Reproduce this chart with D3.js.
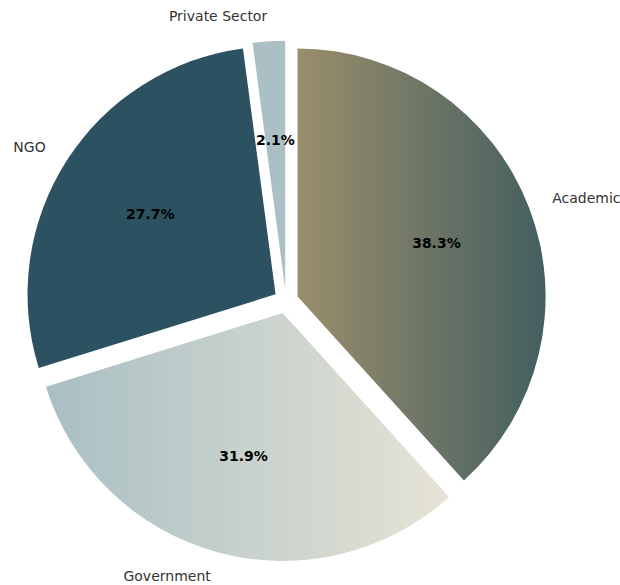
<!DOCTYPE html>
<html>
<head>
<meta charset="utf-8">
<script src="https://cdn.jsdelivr.net/npm/d3@7"></script>
<style>
  body { margin: 0; background: #fff; }
  svg { display: block; }
</style>
</head>
<body>
<div id="chart"></div>
<script>
// data
var categories = ["Academic", "Government", "NGO", "Private Sector"];
var shares = [38.3, 31.9, 27.7, 2.1];
var fillStops = [
  ["#9a8e6b", "#435f60"],
  ["#a9bfc4", "#e6e3d5"],
  ["#2c5262", "#2c5262"],
  ["#abc0c4", "#abc0c4"]
];

var width = 620, height = 585;
var cx = 286, cy = 301, radius = 248;
var explode = 0.05 * radius;

var svg = d3.select("#chart").append("svg")
    .attr("width", width)
    .attr("height", height);

var defs = svg.append("defs");
fillStops.forEach(function(s, i) {
  var g = defs.append("linearGradient")
      .attr("id", "grad" + i)
      .attr("x1", "0%").attr("y1", "0%")
      .attr("x2", "100%").attr("y2", "0%");
  g.append("stop").attr("offset", "0%").attr("stop-color", s[0]);
  g.append("stop").attr("offset", "100%").attr("stop-color", s[1]);
});

var data = categories.map(function(c, i) { return {name: c, value: shares[i], idx: i}; });

var pie = d3.pie()
    .sort(null)
    .value(function(d) { return d.value; });

var arc = d3.arc().innerRadius(0).outerRadius(radius);

var arcs = pie(data);

var g = svg.append("g")
    .attr("transform", "translate(" + cx + "," + cy + ")");

function offset(d, dist) {
  var a = (d.startAngle + d.endAngle) / 2;
  return [Math.sin(a) * dist, -Math.cos(a) * dist];
}

var slices = g.selectAll("g.slice")
    .data(arcs)
    .enter().append("g")
    .attr("class", "slice")
    .attr("transform", function(d) {
      var o = offset(d, explode);
      return "translate(" + o[0] + "," + o[1] + ")";
    });

slices.append("path")
    .attr("d", arc)
    .attr("fill", function(d) { return "url(#grad" + d.data.idx + ")"; });

// category labels
g.selectAll("text.label")
    .data(arcs)
    .enter().append("text")
    .attr("class", "label")
    .attr("x", function(d) { return offset(d, radius * 1.1 + explode)[0]; })
    .attr("y", function(d) { return offset(d, radius * 1.1 + explode)[1]; })
    .attr("dy", "0.35em")
    .attr("text-anchor", function(d) {
      return offset(d, 1)[0] > 0 ? "start" : "end";
    })
    .style("font-family", "DejaVu Sans, sans-serif")
    .style("font-size", "14px")
    .style("fill", "#333")
    .text(function(d) { return d.data.name; });

// percent labels
g.selectAll("text.pct")
    .data(arcs)
    .enter().append("text")
    .attr("class", "pct")
    .attr("x", function(d) { return offset(d, radius * 0.6 + explode)[0]; })
    .attr("y", function(d) { return offset(d, radius * 0.6 + explode)[1]; })
    .attr("dy", "0.35em")
    .attr("text-anchor", "middle")
    .style("font-family", "DejaVu Sans, sans-serif")
    .style("font-size", "14px")
    .style("font-weight", "bold")
    .style("fill", "#000")
    .text(function(d) { return d.data.value.toFixed(1) + "%"; });
</script>
</body>
</html>
